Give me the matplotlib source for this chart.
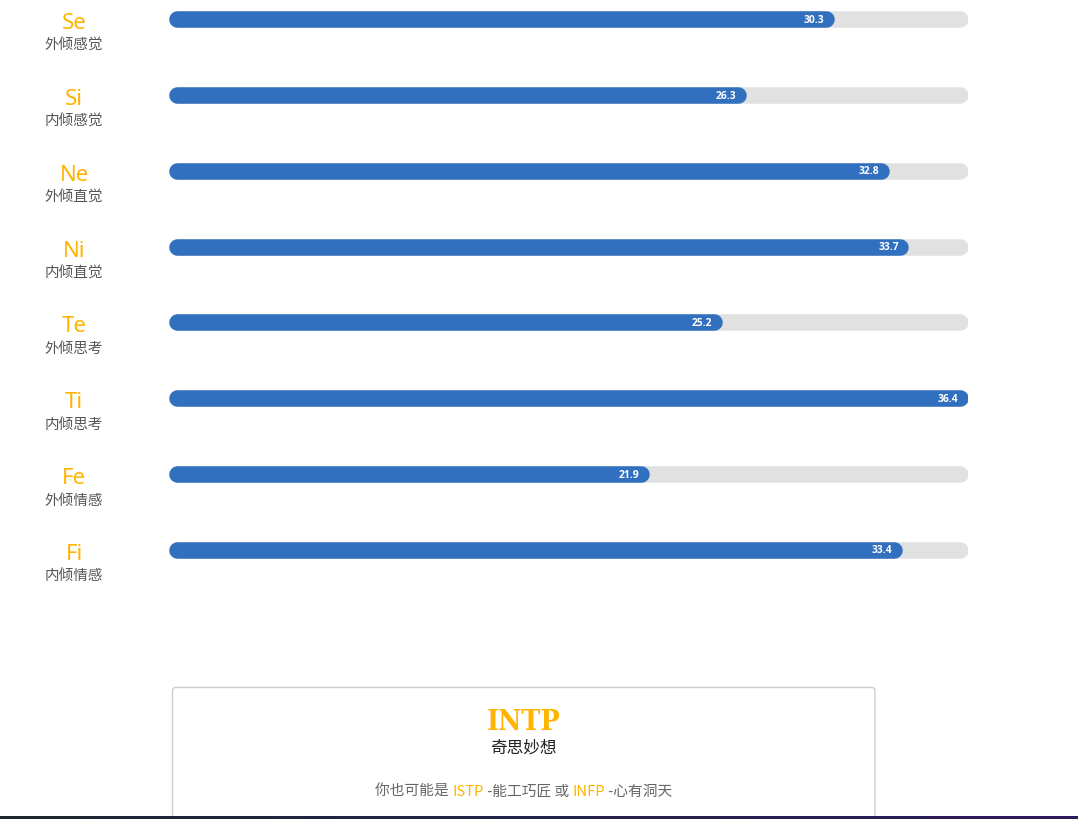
import matplotlib
matplotlib.use("Agg")
import matplotlib.pyplot as plt
import numpy as np
from matplotlib.patches import FancyBboxPatch
from matplotlib.offsetbox import TextArea, HPacker, AnnotationBbox
from matplotlib.colors import LinearSegmentedColormap

plt.rcParams['font.family'] = ['Noto Sans CJK SC', 'DejaVu Sans']

codes = ["Se", "Si", "Ne", "Ni", "Te", "Ti", "Fe", "Fi"]
names = ["外倾感觉", "内倾感觉", "外倾直觉", "内倾直觉", "外倾思考", "内倾思考", "外倾情感", "内倾情感"]
values = [30.3, 26.3, 32.8, 33.7, 25.2, 36.4, 21.9, 33.4]

main_type = "INTP"
main_name = "奇思妙想"
alt_types = ["ISTP", "INFP"]
alt_names = ["能工巧匠", "心有洞天"]

W, H = 1078, 819
DPI = 100
fig = plt.figure(figsize=(W / DPI, H / DPI), dpi=DPI)
fig.patch.set_facecolor("white")

BLUE = "#3070bf"
TRACK = "#e1e1e1"
GOLD = "#ffb400"

# bar axes: x from px 169 to 968, full height
x0px, x1px = 169, 968
ax = fig.add_axes([x0px / W, 0, (x1px - x0px) / W, 1])
vmax = max(values)
ax.set_xlim(0, vmax)
first_px, step_px = 19.3, 75.8
ax.set_ylim((H - first_px) / step_px, -first_px / step_px)
ax.axis("off")

px_per_unit = (x1px - x0px) / vmax
bar_px = 16.5
r = bar_px / 2 / px_per_unit
lw = bar_px * 72 / DPI

for i, (c, n, v) in enumerate(zip(codes, names, values)):
    ax.plot([r, vmax - r], [i, i], color=TRACK, lw=lw, solid_capstyle="round", zorder=1)
    ax.plot([r, v - r], [i, i], color=BLUE, lw=lw, solid_capstyle="round", zorder=2)
    ax.text(v - 10 / px_per_unit, i + 1 / step_px, f"{v}", color="white", fontsize=7.4,
            fontweight="bold", ha="right", va="center", zorder=3, family=["Open Sans", "DejaVu Sans"])
    lx = (74 - x0px) / px_per_unit
    ax.text(lx, i + 4.5 / step_px, c, color=GOLD, fontsize=16, ha="center", va="center", clip_on=False,
            family=["Noto Sans", "DejaVu Sans"])
    ax.text(lx, i + 26.5 / step_px, n, color="#555555", fontsize=10.5, ha="center", va="center", clip_on=False)

# overlay in pixel coords
ov = fig.add_axes([0, 0, 1, 1], facecolor="none")
ov.set_xlim(0, W)
ov.set_ylim(H, 0)
ov.axis("off")

box = FancyBboxPatch((172.5, 687.5), 875 - 172.5, 160, boxstyle="round,pad=0,rounding_size=3",
                     fc="white", ec="#cccccc", lw=1, zorder=1)
ov.add_patch(box)

ov.text(523.5, 722.5, main_type, color=GOLD, fontsize=20.5, fontweight="bold", ha="center", va="center",
        family="DejaVu Serif", fontstretch="condensed", zorder=3)
ov.text(523.5, 748, main_name, color="#222222", fontsize=12, ha="center", va="center", zorder=3)

fs = 10.6
gray = "#666666"
parts = [("你也可能是 ", gray), (alt_types[0], GOLD), (" -" + alt_names[0] + " 或 ", gray),
         (alt_types[1], GOLD), (" -" + alt_names[1], gray)]
areas = [TextArea(t, textprops=dict(color=col, fontsize=fs,
                                    family=['Noto Sans CJK SC', 'DejaVu Sans'])) for t, col in parts]
pack = HPacker(children=areas, align="baseline", pad=0, sep=0)
ab = AnnotationBbox(pack, (523.5, 792), xycoords="data", box_alignment=(0.5, 0.5), frameon=False, zorder=3)
ov.add_artist(ab)

# bottom dark strip
grad = np.linspace(0, 1, 256).reshape(1, -1)
cmap = LinearSegmentedColormap.from_list("strip", ["#1c2a30", "#23234a", "#2e1a5c"])
ov.imshow(grad, extent=(0, W, H, 816), aspect="auto", cmap=cmap, zorder=5)
ov.set_xlim(0, W)
ov.set_ylim(H, 0)

fig.savefig("out.png", dpi=DPI, facecolor="white")
